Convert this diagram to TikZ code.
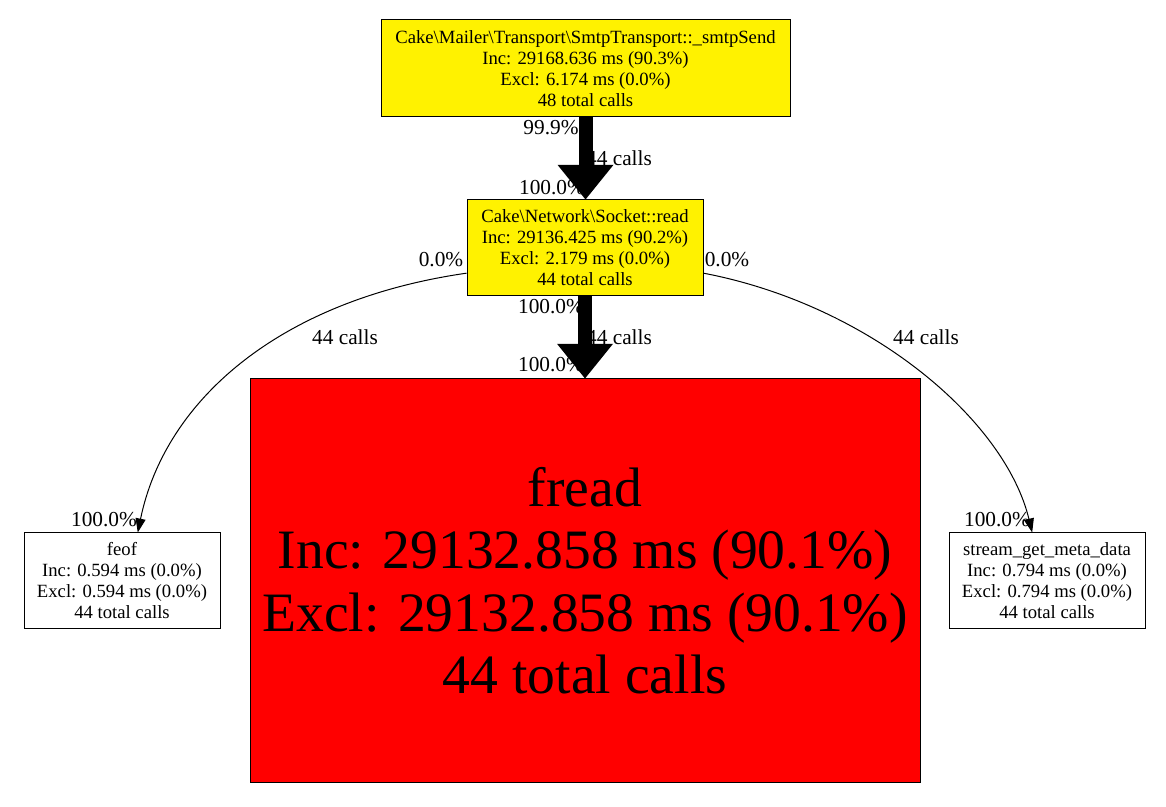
\documentclass[tikz,border=0pt]{standalone}
\usepackage{fontspec}
\setmainfont{Liberation Serif}
\usetikzlibrary{arrows.meta,positioning}

\begin{document}
\begin{tikzpicture}[x=0.75pt, y=0.75pt,
    func/.style={rectangle, draw=black, line width=0.75pt, align=center, inner sep=2pt,
                 font=\fontsize{14}{15.75}\selectfont},
    callee/.style={func, minimum width=147pt, minimum height=72pt},
    edgelbl/.style={font=\fontsize{16}{18}\selectfont, inner sep=0pt},
    hotarrow/.style={line width=10.5pt, -{Triangle[length=26pt, width=42pt, line width=0pt]}},
    callarrow/.style={line width=0.75pt, -{Triangle[length=10.5pt, width=7.5pt]}}
]
\useasboundingbox (0,0) rectangle (1166,806);

\node[func, fill=yellow, minimum width=306.75pt, minimum height=72.75pt] (smtp) at (585.5, 737.5)
    {Cake\textbackslash Mailer\textbackslash Transport\textbackslash SmtpTransport::\_smtpSend\\Inc: 29168.636 ms (90.3\%)\\Excl: 6.174 ms (0.0\%)\\48 total calls};
\node[func, fill=yellow, minimum width=177pt, minimum height=72pt] (sock) at (585, 558)
    {Cake\textbackslash Network\textbackslash Socket::read\\Inc: 29136.425 ms (90.2\%)\\Excl: 2.179 ms (0.0\%)\\44 total calls};
\node[func, fill=red, minimum width=502.5pt, minimum height=302.25pt,
      font=\fontsize{41.7}{46.9}\selectfont] (fread) at (585, 225.5)
    {fread\\Inc: 29132.858 ms (90.1\%)\\Excl: 29132.858 ms (90.1\%)\\44 total calls};
\node[callee] (feof) at (122, 225)
    {feof\\Inc: 0.594 ms (0.0\%)\\Excl: 0.594 ms (0.0\%)\\44 total calls};
\node[callee] (meta) at (1047, 225)
    {stream\_get\_meta\_data\\Inc: 0.794 ms (0.0\%)\\Excl: 0.794 ms (0.0\%)\\44 total calls};

% edge labels
\node[edgelbl] (smtpout) at (551, 678) {99.9\%};
\node[edgelbl] (smtpcalls) at (619, 648) {44 calls};
\node[edgelbl] (sockin) at (552, 618) {100.0\%};
\node[edgelbl] (sockoutl) at (441, 546) {0.0\%};
\node[edgelbl] (sockoutr) at (727, 546) {0.0\%};
\node[edgelbl] (sockout) at (551, 499) {100.0\%};
\node[edgelbl] (freadcalls) at (619, 469) {44 calls};
\node[edgelbl] (freadin) at (551, 441) {100.0\%};
\node[edgelbl] (feofcalls) at (345, 469) {44 calls};
\node[edgelbl] (metacalls) at (926, 469) {44 calls};
\node[edgelbl] (feofin) at (104, 286) {100.0\%};
\node[edgelbl] (metain) at (997, 286) {100.0\%};

\draw[hotarrow] (smtp.south) -- (smtp.south |- sock.north);
\draw[hotarrow] (sock.south) -- (fread.north);
\draw[callarrow] (sock.192) .. controls (280, 506) and (165, 406) .. (feof.72);
\draw[callarrow] (sock.-12) .. controls (870, 501) and (1005, 386) .. (meta.107);

\end{tikzpicture}
\end{document}
